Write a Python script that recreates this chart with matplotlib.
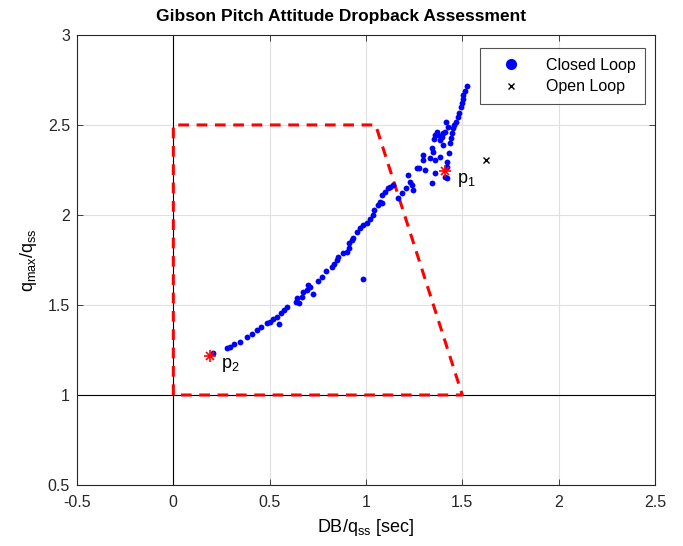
import matplotlib
matplotlib.use("Agg")
import matplotlib.pyplot as plt
from matplotlib.lines import Line2D

plt.rcParams['font.family'] = ['Liberation Sans', 'DejaVu Sans']
plt.rcParams['mathtext.default'] = 'regular'

# Closed loop data (DB/qss, qmax/qss)
closed_x = [0.204, 0.277, 0.294, 0.316, 0.346, 0.381, 0.407, 0.433, 0.453, 0.485,
            0.502, 0.519, 0.536, 0.550, 0.557, 0.574, 0.592, 0.637, 0.654, 0.640,
            0.666, 0.671, 0.692, 0.709, 0.726, 0.700, 0.752, 0.773, 0.792, 0.822,
            0.834, 0.848, 0.856, 0.882, 0.900, 0.913, 0.913, 0.926, 0.934, 0.952,
            0.969, 0.986, 1.004, 1.021, 1.035, 1.043, 1.064, 1.081, 0.986,
            1.523, 1.514, 1.505, 1.502, 1.497, 1.491, 1.484, 1.476, 1.467, 1.457,
            1.450, 1.445, 1.440, 1.436, 1.432, 1.415, 1.427, 1.410, 1.398, 1.393,
            1.367, 1.375, 1.384, 1.401, 1.358, 1.353, 1.341, 1.349, 1.384, 1.332,
            1.358, 1.419, 1.419, 1.419, 1.410, 1.297, 1.294, 1.263, 1.277, 1.306,
            1.341, 1.358, 1.220, 1.228, 1.237, 1.242, 1.208, 1.185, 1.168, 1.142,
            1.124, 1.116, 1.098, 1.081, 1.073]
closed_y = [1.235, 1.259, 1.268, 1.282, 1.296, 1.324, 1.337, 1.361, 1.376, 1.398,
            1.407, 1.421, 1.435, 1.394, 1.454, 1.472, 1.487, 1.518, 1.509, 1.537,
            1.546, 1.574, 1.583, 1.602, 1.559, 1.611, 1.635, 1.657, 1.689, 1.713,
            1.728, 1.750, 1.768, 1.791, 1.796, 1.815, 1.843, 1.861, 1.871, 1.907,
            1.926, 1.943, 1.957, 1.976, 2.000, 2.028, 2.056, 2.068, 1.646,
            2.717, 2.691, 2.667, 2.643, 2.621, 2.598, 2.568, 2.546, 2.518, 2.500,
            2.482, 2.454, 2.426, 2.398, 2.346, 2.518, 2.491, 2.463, 2.454, 2.435,
            2.463, 2.444, 2.417, 2.389, 2.444, 2.421, 2.371, 2.352, 2.324, 2.315,
            2.306, 2.296, 2.268, 2.204, 2.213, 2.333, 2.306, 2.263, 2.263, 2.250,
            2.176, 2.232, 2.222, 2.185, 2.167, 2.139, 2.152, 2.121, 2.093, 2.167,
            2.157, 2.148, 2.129, 2.111, 2.074]

# Open loop point
open_x = [1.623]
open_y = [2.306]

# Boundary (dashed red)
bound_x = [0.0, 0.0, 1.05, 1.5, 0.0]
bound_y = [1.0, 2.5, 2.5, 1.0, 1.0]

# Labelled points
pts_x = [1.41, 0.19]
pts_y = [2.244, 1.217]
pts_labels = ['p$_1$', 'p$_2$']

fig = plt.figure(figsize=(6.83, 5.46), dpi=100)
ax = fig.add_axes([0.1127, 0.1117, 0.8463, 0.8243])

ax.grid(True, color='#e0e0e0', linewidth=0.8, zorder=0)
ax.set_axisbelow(True)
ax.axvline(0, color='black', linewidth=0.8, zorder=1)
ax.axhline(1, color='black', linewidth=0.8, zorder=1)

ax.plot(bound_x, bound_y, color='#ff0000', linestyle=(0, (3.5, 2.5)), linewidth=2.2, zorder=2)
ax.plot(closed_x, closed_y, 'o', color='#0000ff', markersize=4.2, markeredgewidth=0, zorder=3)
ax.plot(open_x, open_y, 'x', color='black', markersize=5, markeredgewidth=1.0, zorder=3)
ax.plot(pts_x, pts_y, '+', color='#ff0000', markersize=8, markeredgewidth=1.2, zorder=4)
ax.plot(pts_x, pts_y, 'x', color='#ff0000', markersize=6, markeredgewidth=1.2, zorder=4)
ax.text(pts_x[0] + 0.06, pts_y[0] - 0.05, pts_labels[0], fontsize=13, va='center', ha='left')
ax.text(pts_x[1] + 0.06, pts_y[1] - 0.05, pts_labels[1], fontsize=13, va='center', ha='left')

ax.set_xlim(-0.5, 2.5)
ax.set_ylim(0.5, 3.0)
ax.set_xticks([-0.5, 0, 0.5, 1, 1.5, 2, 2.5])
ax.set_xticklabels(['-0.5', '0', '0.5', '1', '1.5', '2', '2.5'])
ax.set_yticks([0.5, 1, 1.5, 2, 2.5, 3])
ax.set_yticklabels(['0.5', '1', '1.5', '2', '2.5', '3'])
ax.tick_params(direction='in', top=True, right=True, labelsize=11.5, length=4, width=0.6,
               colors='#262626')
ax.tick_params(axis='x', pad=7)
ax.tick_params(axis='y', pad=5)
for sp in ax.spines.values():
    sp.set_linewidth(0.8)
    sp.set_color('#262626')

ax.set_xlabel('DB/q$_{ss}$ [sec]', fontsize=13, labelpad=5)
ax.set_ylabel('q$_{max}$/q$_{ss}$', fontsize=13, labelpad=6)
fig.text(341 / 683, 1 - 17 / 546, 'Gibson Pitch Attitude Dropback Assessment',
         fontsize=12.5, fontweight='bold', ha='center', va='center')

handles = [Line2D([], [], linestyle='none', marker='o', color='#0000ff', markersize=8,
                  markeredgewidth=0, label='Closed Loop'),
           Line2D([], [], linestyle='none', marker='x', color='black', markersize=5,
                  markeredgewidth=1.0, label='Open Loop')]
leg = ax.legend(handles=handles, loc='upper right', fontsize=11.5, frameon=True, fancybox=False,
                edgecolor='#262626', borderpad=0.6, labelspacing=0.4, handlelength=2.75,
                handletextpad=0.8, borderaxespad=0, bbox_to_anchor=(0.983, 0.97))
leg.get_frame().set_linewidth(0.8)

fig.savefig('out.png', dpi=100)
